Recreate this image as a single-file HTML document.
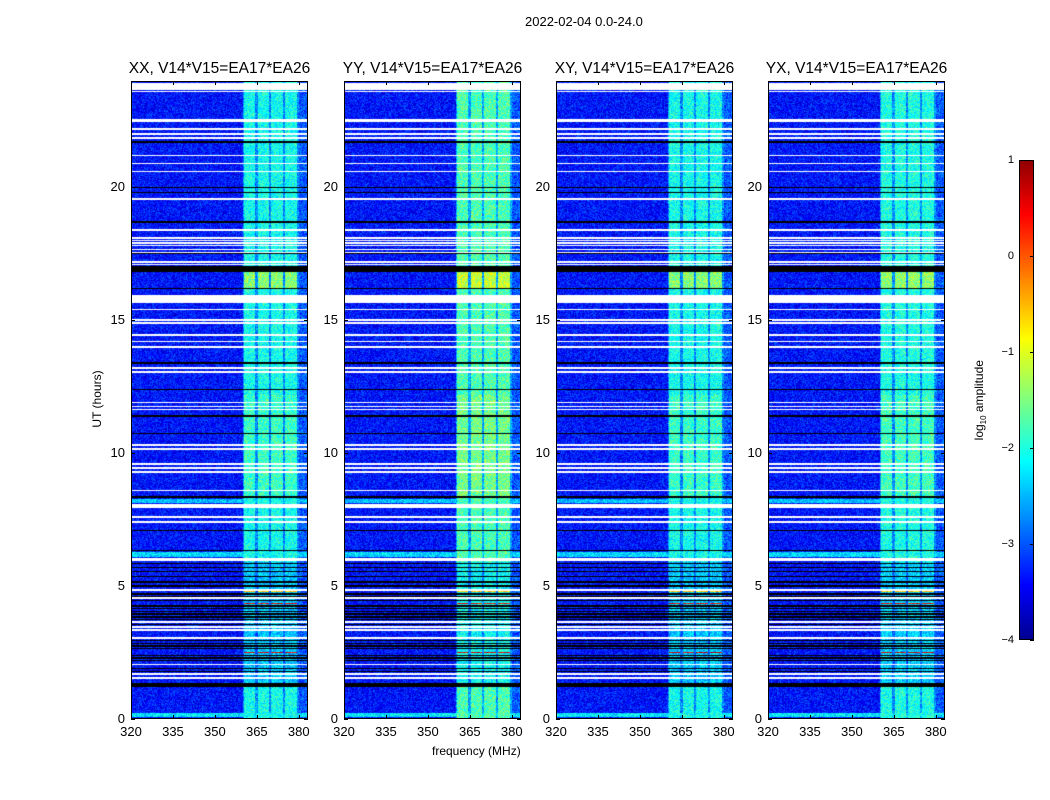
<!DOCTYPE html>
<html><head><meta charset="utf-8">
<style>
body{margin:0;background:#fff;width:1050px;height:800px;overflow:hidden;font-family:"Liberation Sans",sans-serif;}
#root{position:relative;width:1050px;height:800px;}
.t{position:absolute;font-size:12px;color:#000;white-space:nowrap;}
canvas{position:absolute;}
.frame{position:absolute;border:1px solid #000;box-sizing:border-box;}
</style></head>
<body><div id="root">
<div class="t" style="left:525px;top:14px;font-size:13px;">2022-02-04 0.0-24.0</div>
<div class="t" style="left:432px;top:744px;">frequency (MHz)</div>
<div class="t" style="left:62px;top:392px;transform:rotate(-90deg);transform-origin:center;width:70px;text-align:center;">UT (hours)</div>
<div class="t" style="left:930px;top:392px;transform:rotate(-90deg);width:100px;text-align:center;">log<sub style="font-size:8px">10</sub> amplitude</div>
</div>
<script>
const panelTitles=["XX, V14*V15=EA17*EA26","YY, V14*V15=EA17*EA26","XY, V14*V15=EA17*EA26","YX, V14*V15=EA17*EA26"];
const panelGain=[0,0.3,0,0.05];
const freqTicks=[320,335,350,365,380];
const hourTicks=[0,5,10,15,20];
const cbarTicks=[1,0,-1,-2,-3,-4];
const rfiBands=[[360.4,364.5],[365.3,369.2],[370.2,374.4],[375.2,379.4]];
const whiteRows=[[23.8,0.25],[23.6,0.06],[22.5,0.12],[22.2,0.06],[22.0,0.06],[21.85,0.06],[21.2,0.06],[20.9,0.06],[20.6,0.06],[19.55,0.06],[18.4,0.06],[18.1,0.06],[18.0,0.05],[17.9,0.05],[17.8,0.05],[17.65,0.05],[17.55,0.05],[17.2,0.06],[17.1,0.06],[15.8,0.3],[15.4,0.06],[15.0,0.06],[14.9,0.06],[14.45,0.06],[14.2,0.06],[14.0,0.06],[13.2,0.06],[13.05,0.06],[11.9,0.05],[11.75,0.05],[11.65,0.05],[10.3,0.06],[10.15,0.06],[9.6,0.06],[9.45,0.06],[9.3,0.06],[8.6,0.06],[8.0,0.15],[7.6,0.06],[7.4,0.06],[6.0,0.15],[4.85,0.06],[4.55,0.06],[3.65,0.06],[3.45,0.06],[3.35,0.06],[3.05,0.06],[2.05,0.06],[1.7,0.06],[1.55,0.06]];
const blackRows=[[21.7,0.06],[20.0,0.06],[19.8,0.05],[18.7,0.05],[17.5,0.05],[16.93,0.2],[16.2,0.05],[13.4,0.06],[12.4,0.05],[11.4,0.05],[10.75,0.05],[8.35,0.05],[7.1,0.05],[6.35,0.05],[5.85,0.05],[5.7,0.05],[5.55,0.04],[5.35,0.05],[5.15,0.05],[5.0,0.05],[4.7,0.08],[4.6,0.05],[4.45,0.05],[4.25,0.05],[4.15,0.05],[4.05,0.05],[3.95,0.05],[3.85,0.07],[3.75,0.05],[3.55,0.05],[2.95,0.05],[2.85,0.05],[2.75,0.05],[2.65,0.06],[2.4,0.05],[2.3,0.05],[2.2,0.05],[1.9,0.05],[1.8,0.04],[1.28,0.14]];
const redRows=[[4.8,-0.6],[4.35,0.4],[2.5,0.5]];
const cyanRows=[[8.2,0.15,-2.4],[6.2,0.2,-2.3],[0.15,0.12,-2.2]];
const brightSpans=[[16.2,16.8,0.6],[8.3,12.2,0.2]];

const root=document.getElementById('root');
const FMIN=320,FMAX=383.3,HMIN=0,HMAX=24;
const panelX=[131,344,556,768],PW=177,PY=81,PH=638;
function jet(v){
  const r=Math.min(1,Math.max(0,1.5-Math.abs(4*v-3)));
  const g=Math.min(1,Math.max(0,1.5-Math.abs(4*v-2)));
  const b=Math.min(1,Math.max(0,1.5-Math.abs(4*v-1)));
  return [r*255|0,g*255|0,b*255|0];
}
function hash(a,b){let h=(a*374761393+b*668265263)|0;h=(h^(h>>>13))*1274126177|0;return ((h^(h>>>16))>>>0)/4294967295;}
function inRows(rows,h){for(const r of rows){if(Math.abs(h-r[0])<=r[1]/2)return r;}return null;}
function addText(txt,x,y,name,style){const d=document.createElement('div');d.className='t';d.textContent=txt;d.style.cssText+=style||'';d.style.left=x+'px';d.style.top=y+'px';


root.appendChild(d);return d;}

panelTitles.forEach((title,p)=>{
  const x0=panelX[p];
  const xs=f=>(f-FMIN)/(FMAX-FMIN)*PW;
  const ys=h=>PH-(h-HMIN)/(HMAX-HMIN)*PH;
  const c=document.createElement('canvas');c.width=PW;c.height=PH;c.style.left=x0+'px';c.style.top=PY+'px';
  
  
  root.appendChild(c);
  const ctx=c.getContext('2d');const img=ctx.createImageData(PW,PH);
  for(let py=0;py<PH;py++){
    const h=HMAX-(py+0.5)/PH*(HMAX-HMIN);
    const w=inRows(whiteRows,h),b=inRows(blackRows,h),rr=inRows(redRows.map(r=>[r[0],0.06,r[1]]),h),cy=inRows(cyanRows,h);
    let boost=0;for(const s of brightSpans){if(h>=s[0]&&h<=s[1])boost=s[2];}
    const lowDim=(h>1.2&&h<5.9)?-0.35:0;
    for(let px=0;px<PW;px++){
      const f=FMIN+(px+0.5)/PW*(FMAX-FMIN);
      let rgb;
      if(w)rgb=[255,255,255];else if(b)rgb=[0,0,0];else{
        let inBand=false;for(const bd of rfiBands){if(f>=bd[0]&&f<=bd[1])inBand=true;}
        let v=-3.3;
        if(inBand)v=-2.05+panelGain[p]+boost+lowDim;
        else if(f>360&&f<380)v=-2.7+panelGain[p]*0.5+lowDim*0.5;
        else if(f>=380)v=-2.95;
        if(cy)v=Math.max(v,cy[2]);
        if(rr&&inBand)v=rr[2];
        v+=(hash(px+p*1000,py)-0.5)*0.8;
        rgb=jet(Math.min(1,Math.max(0,(v+4)/5)));
      }
      const i=(py*PW+px)*4;img.data[i]=rgb[0];img.data[i+1]=rgb[1];img.data[i+2]=rgb[2];img.data[i+3]=255;
    }
  }
  ctx.putImageData(img,0,0);
  const fr=document.createElement('div');fr.className='frame';fr.style.cssText=`left:${x0}px;top:${PY}px;width:${PW}px;height:${PH}px;`;
  
  
  root.appendChild(fr);
  addText(title,x0+PW/2,60,'panel-title-'+p,'font-size:15.5px;transform:translateX(-50%);');
  freqTicks.forEach(f=>{
    const tx=x0+xs(f);
    const d=document.createElement('div');d.style.cssText=`position:absolute;left:${tx}px;top:${PY+PH-4}px;width:1px;height:4px;background:#000;`;
    
    
    root.appendChild(d);
    const d2=d.cloneNode();d2.style.top=PY+'px';root.appendChild(d2);
    addText(String(f),tx,724,'x-tick-label','font-size:13px;transform:translateX(-50%);');
  });
  hourTicks.forEach(h=>{
    const ty=PY+ys(h);
    const d=document.createElement('div');d.style.cssText=`position:absolute;left:${x0}px;top:${ty}px;width:4px;height:1px;background:#000;`;
    
    
    root.appendChild(d);
    const d2=d.cloneNode();d2.style.left=(x0+PW-4)+'px';root.appendChild(d2);
    addText(String(h),x0-6,ty-8,'y-tick-label','font-size:13px;transform:translateX(-100%);');
  });
});
const CB={x:1019,y:160,w:15,h:480};
const cb=document.createElement('canvas');cb.width=CB.w;cb.height=CB.h;cb.style.left=CB.x+'px';cb.style.top=CB.y+'px';


root.appendChild(cb);
const cctx=cb.getContext('2d');
for(let y=0;y<CB.h;y++){const v=1-(y+0.5)/CB.h;const [r,g,b]=jet(v*0.97+0.015);cctx.fillStyle=`rgb(${r},${g},${b})`;cctx.fillRect(0,y,CB.w,1);}
const cf=document.createElement('div');cf.className='frame';cf.style.cssText=`left:${CB.x}px;top:${CB.y}px;width:${CB.w}px;height:${CB.h}px;`;


root.appendChild(cf);
cbarTicks.forEach(v=>{
  const ty=CB.y+(1-v)/5*CB.h;
  const d=document.createElement('div');d.style.cssText=`position:absolute;left:${CB.x+CB.w-4}px;top:${ty}px;width:4px;height:1px;background:#000;`;
  
  
  root.appendChild(d);
  addText(v<0?'\u2212'+(-v):String(v),CB.x-5,ty-6,'colorbar-tick-label','font-size:11px;transform:translateX(-100%);');
});
</script></body></html>
